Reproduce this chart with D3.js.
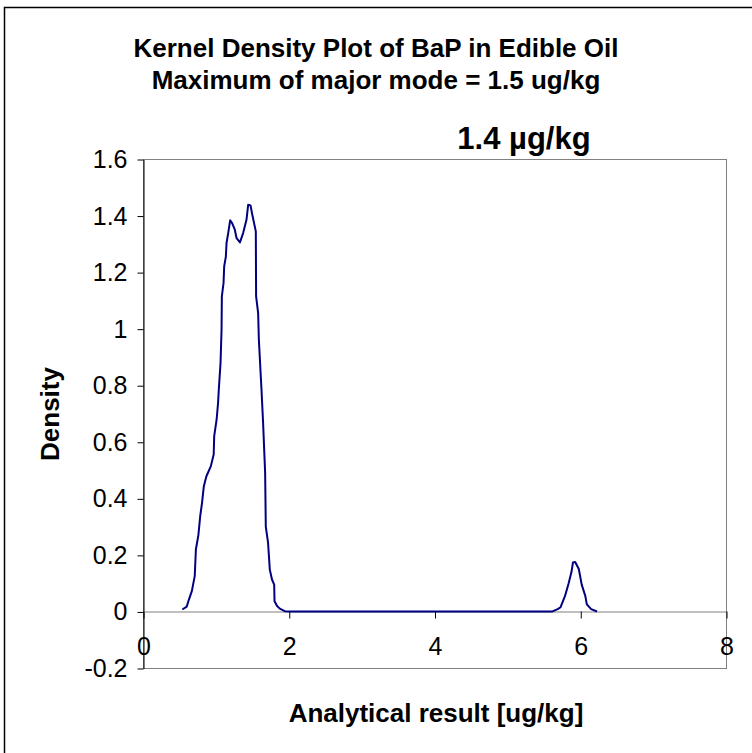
<!DOCTYPE html>
<html>

<head>
    <meta charset="utf-8">
    <title>Kernel Density Plot</title>
    <style>
        html,
        body {
            margin: 0;
            padding: 0;
            background-color: #ffffff;
            overflow: hidden;
        }

        text {
            font-family: Arial, "Liberation Sans", sans-serif;
            fill: #000000;
        }
    </style>
</head>

<body>
    <div id="container"></div>

    <script src="https://d3js.org/d3.v7.min.js"></script>

    <script>
        // data
        var resultX = [0.54, 0.60, 0.63, 0.67, 0.71, 0.726, 0.76, 0.785, 0.81, 0.835, 0.87, 0.93, 0.97, 0.977,
            1.01, 1.03, 1.04, 1.064, 1.078, 1.082, 1.105, 1.114, 1.137, 1.146, 1.169, 1.196, 1.223, 1.26,
            1.284, 1.33, 1.374, 1.42, 1.443, 1.475, 1.50, 1.548, 1.552, 1.58, 1.59, 1.626, 1.648, 1.676,
            1.685, 1.716, 1.74, 1.77, 1.80, 1.805, 1.84, 1.877, 1.945, 2.0, 3.0, 4.0, 5.0, 5.62,
            5.69, 5.73, 5.79, 5.84, 5.88, 5.90, 5.93, 5.95, 5.98, 6.02, 6.07, 6.09, 6.15, 6.23];
        var density = [0.007, 0.017, 0.042, 0.072, 0.125, 0.22, 0.27, 0.337, 0.384, 0.443, 0.478, 0.513, 0.555, 0.62,
            0.678, 0.737, 0.784, 0.879, 0.996, 1.114, 1.161, 1.22, 1.255, 1.302, 1.338, 1.383, 1.373, 1.35,
            1.32, 1.305, 1.338, 1.385, 1.438, 1.436, 1.403, 1.344, 1.114, 1.055, 0.96, 0.784, 0.667, 0.49,
            0.30, 0.243, 0.148, 0.113, 0.095, 0.036, 0.019, 0.01, 0.001, 0, 0, 0, 0, 0,
            0.008, 0.015, 0.054, 0.099, 0.14, 0.173, 0.175, 0.165, 0.15, 0.095, 0.054, 0.025, 0.008, 0];
        var xTicks = [0, 2, 4, 6, 8];
        var yTicks = [-0.2, 0, 0.2, 0.4, 0.6, 0.8, 1, 1.2, 1.4, 1.6];

        var titleLines = ["Kernel Density Plot of BaP in Edible Oil", "Maximum of major mode = 1.5 ug/kg"];
        var modeLabel = "1.4 \u00b5g/kg";
        var xTitle = "Analytical result [ug/kg]";
        var yTitle = "Density";

        var width = 752, height = 753;
        var plot = { left: 143, right: 726, top: 159, bottom: 668 };
        var tickFont = "25px";

        var svg = d3.select("div#container")
            .append("svg")
            .attr("width", width)
            .attr("height", height);

        // outer chart frame (right and bottom edges fall outside the picture)
        svg.append("rect")
            .attr("x", 4.5)
            .attr("y", 7.5)
            .attr("width", 800)
            .attr("height", 800)
            .style("fill", "none")
            .style("stroke", "#000")
            .style("stroke-width", 1.5);

        var x = d3.scaleLinear().domain([0, 8]).range([plot.left, plot.right]);
        var y = d3.scaleLinear().domain([-0.2, 1.6]).range([plot.bottom, plot.top]);

        // plot area border
        svg.append("rect")
            .attr("x", plot.left + 0.5)
            .attr("y", plot.top + 0.5)
            .attr("width", plot.right - plot.left)
            .attr("height", plot.bottom - plot.top)
            .style("fill", "none")
            .style("stroke", "#808080");

        // y axis
        var yAxis = svg.append("g")
            .attr("transform", "translate(" + (plot.left + 0.5) + ",0.5)")
            .call(d3.axisLeft(y).tickValues(yTicks).tickSize(6).tickSizeOuter(0).tickPadding(10)
                .tickFormat(function (d) { return String(+d.toFixed(1)); }));
        yAxis.select(".domain").attr("stroke", "#000");
        yAxis.selectAll("text").style("font-size", tickFont).style("font-family", "Arial, 'Liberation Sans', sans-serif");

        // x axis sits on zero
        var xAxis = svg.append("g")
            .attr("transform", "translate(0.5," + (Math.round(y(0)) + 0.5) + ")")
            .call(d3.axisBottom(x).tickValues(xTicks).tickSize(7).tickSizeOuter(0).tickPadding(19));
        xAxis.select(".domain").attr("stroke", "#808080");
        xAxis.selectAll("text").style("font-size", tickFont).style("font-family", "Arial, 'Liberation Sans', sans-serif");

        // density curve
        var pts = resultX.map(function (v, i) { return [v, density[i]]; });
        var line = d3.line()
            .x(function (d) { return x(d[0]); })
            .y(function (d) { return y(d[1]); });

        svg.append("path")
            .datum(pts)
            .attr("d", line)
            .style("fill", "none")
            .style("stroke", "#000080")
            .style("stroke-width", 2)
            .style("stroke-linejoin", "round");

        // titles
        svg.selectAll(".title")
            .data(titleLines)
            .enter().append("text")
            .attr("class", "title")
            .attr("x", 376)
            .attr("y", function (d, i) { return 57 + i * 32; })
            .attr("text-anchor", "middle")
            .style("font-size", "26px")
            .style("font-weight", "bold")
            .text(function (d) { return d; });

        svg.append("text")
            .attr("x", 524)
            .attr("y", 149)
            .attr("text-anchor", "middle")
            .style("font-size", "31px")
            .style("font-weight", "bold")
            .text(modeLabel);

        svg.append("text")
            .attr("x", 436)
            .attr("y", 722)
            .attr("text-anchor", "middle")
            .style("font-size", "26px")
            .style("font-weight", "bold")
            .text(xTitle);

        svg.append("text")
            .attr("transform", "translate(59,414) rotate(-90)")
            .attr("text-anchor", "middle")
            .style("font-size", "26px")
            .style("font-weight", "bold")
            .text(yTitle);
    </script>
</body>

</html>
